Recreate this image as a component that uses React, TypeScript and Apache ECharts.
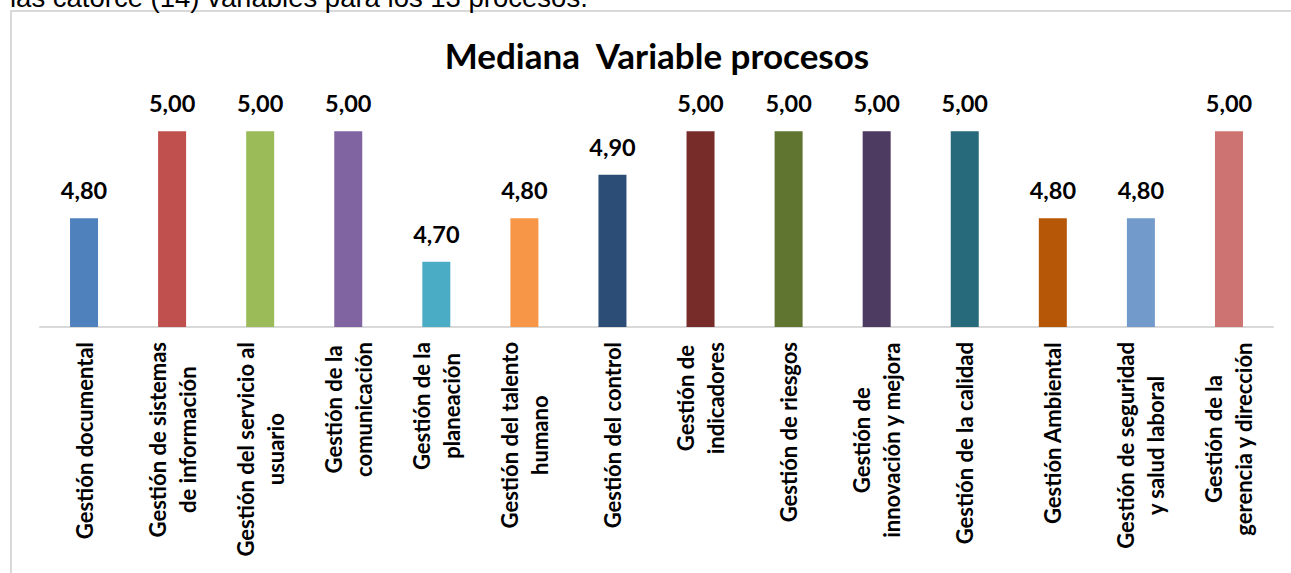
import React, { useEffect, useRef } from "react";
import * as echarts from "echarts";

const categories = [
  "Gestión documental",
  "Gestión de sistemas\nde información",
  "Gestión del servicio al\nusuario",
  "Gestión de la\ncomunicación",
  "Gestión de la\nplaneación",
  "Gestión del talento\nhumano",
  "Gestión del control",
  "Gestión de\nindicadores",
  "Gestión de riesgos",
  "Gestión de\ninnovación y mejora",
  "Gestión de la calidad",
  "Gestión Ambiental",
  "Gestión de seguridad\ny salud laboral",
  "Gestión de la\ngerencia y dirección",
];

const values = [4.8, 5.0, 5.0, 5.0, 4.7, 4.8, 4.9, 5.0, 5.0, 5.0, 5.0, 4.8, 4.8, 5.0];

const colors = [
  "#4F81BD", "#C0504D", "#9BBB59", "#8064A2", "#4BACC6", "#F79646", "#2C4D75",
  "#772C2A", "#5F7530", "#4D3B62", "#276A7C", "#B65708", "#729ACA", "#CD7371",
];

const titleText = "Mediana  Variable procesos";
const topText = "las catorce (14) variables para los 13 procesos.";

const FONT = "Lato, 'Open Sans', sans-serif";

export default function App() {
  const ref = useRef<HTMLDivElement>(null);
  useEffect(() => {
    if (!ref.current) return;
    const chart = echarts.init(ref.current, null, { renderer: "svg" });
    chart.setOption({
      animation: false,
      backgroundColor: "#ffffff",
      grid: { left: 40, right: 18, top: 109.5, bottom: 246, containLabel: false },
      xAxis: {
        type: "category",
        data: categories,
        axisTick: { show: false },
        axisLine: { show: true, lineStyle: { color: "#d9d9d9", width: 2 } },
        axisLabel: {
          interval: 0,
          rotate: 90,
          margin: 15,
          color: "#000",
          formatter: (v: string) =>
            v.split("\n").map((l) => `{c|${l}}`).join("\n"),
          rich: {
            c: {
              align: "center",
              fontFamily: FONT,
              fontWeight: "bold",
              fontSize: 22,
              lineHeight: 30,
              color: "#000",
            },
          },
        },
      },
      yAxis: { type: "value", min: 4.55, max: 5.05, show: false },
      series: [
        {
          type: "bar",
          barWidth: 28,
          data: values.map((v, i) => ({ value: v, itemStyle: { color: colors[i] } })),
          label: {
            show: true,
            position: "top",
            distance: 16,
            color: "#000",
            fontFamily: FONT,
            fontWeight: "bold",
            fontSize: 23.5,
            formatter: (p: any) => Number(p.value).toFixed(2).replace(".", ","),
          },
        },
      ],
      graphic: [
        {
          type: "rect",
          shape: { x: 11, y: 11, width: 1300, height: 600 },
          style: { fill: "none", stroke: "#d9d9d9", lineWidth: 2 },
          silent: true,
        },
        {
          type: "text",
          x: 10,
          y: 11,
          style: {
            text: topText,
            fontFamily: "'Liberation Sans', Arial, sans-serif",
            fontSize: 27.5,
            fill: "#000",
            textVerticalAlign: "bottom",
          },
        },
        {
          type: "text",
          x: 657,
          y: 55,
          style: {
            text: titleText,
            fontFamily: FONT,
            fontWeight: "bold",
            fontSize: 35,
            fill: "#000",
            textAlign: "center",
            textVerticalAlign: "middle",
          },
        },
      ],
    });
    return () => chart.dispose();
  }, []);
  return (
    <div
      ref={ref}
      style={{ position: "fixed", left: 0, top: 0, width: 1291, height: 573 }}
    />
  );
}
